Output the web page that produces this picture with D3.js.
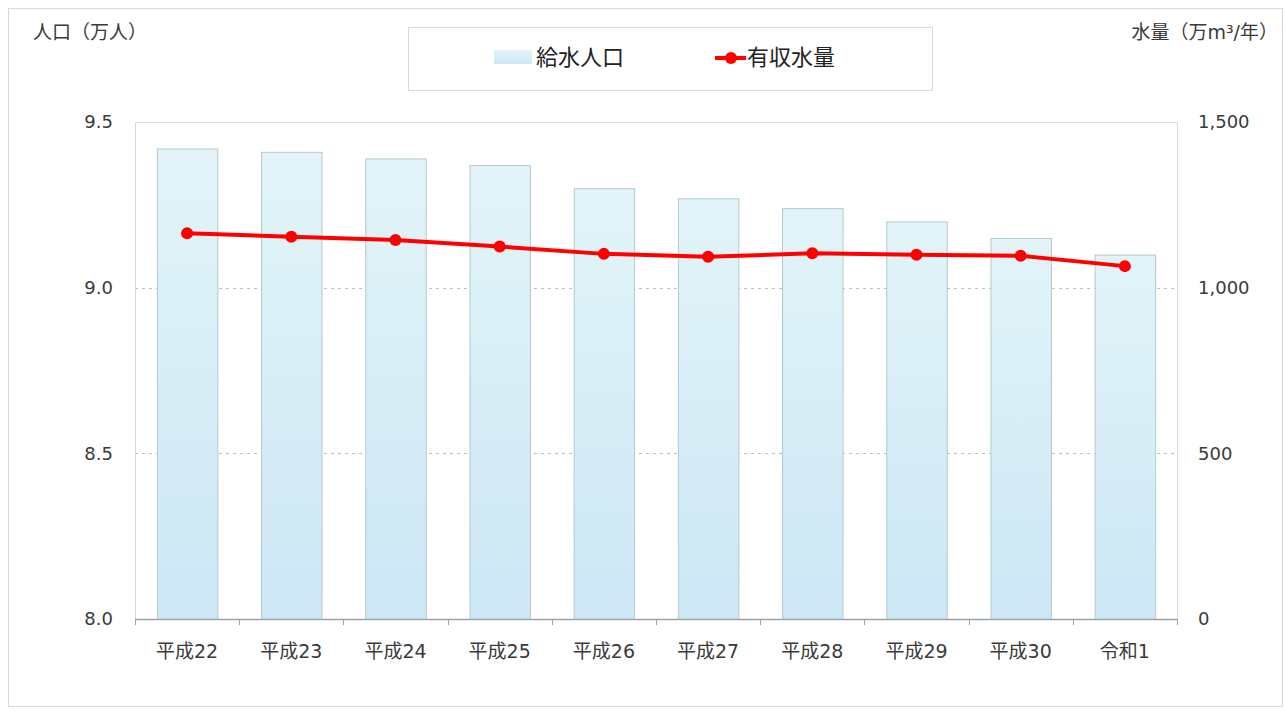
<!DOCTYPE html>
<html>
<head>
<meta charset="utf-8">
<script src="https://cdn.jsdelivr.net/npm/d3@7"></script>
<style>
  html, body { margin: 0; padding: 0; background: #fff; }
  svg { display: block; font-family: "DejaVu Sans", "Noto Sans CJK JP", sans-serif; }
</style>
</head>
<body>
<svg id="chart" width="1285" height="713"></svg>
<script>
// Fiscal years (Japanese era names)
const categories = ["平成22", "平成23", "平成24", "平成25", "平成26", "平成27", "平成28", "平成29", "平成30", "令和1"];
// 給水人口 (万人)
const population = [9.42, 9.41, 9.39, 9.37, 9.30, 9.27, 9.24, 9.20, 9.15, 9.10];
// 有収水量 (万m³/年)
const revenueWater = [1164, 1154, 1144, 1124, 1102, 1093, 1104, 1099, 1096, 1065];
const leftTicks = [8.0, 8.5, 9.0, 9.5];
const rightTicks = [0, 500, 1000, 1500];
const legendLabels = ["給水人口", "有収水量"];

const textColor = "#3a3a3a";
const svg = d3.select("#chart");
const plot = { left: 135, right: 1177, top: 122, bottom: 619 };

// Outer frame
svg.append("rect")
  .attr("x", 8.5).attr("y", 8.5).attr("width", 1274).attr("height", 698)
  .attr("fill", "#fff").attr("stroke", "#d9d9d9").attr("stroke-width", 1);

const x = d3.scaleBand().domain(categories)
  .range([plot.left, plot.right]).paddingInner(0.42).paddingOuter(0.21);
const xStep = d3.scaleBand().domain(categories).range([plot.left, plot.right]);
const yL = d3.scaleLinear().domain([8.0, 9.5]).range([plot.bottom, plot.top]);
const yR = d3.scaleLinear().domain([0, 1500]).range([plot.bottom, plot.top]);

const defs = svg.append("defs");
const grad = defs.append("linearGradient").attr("id", "barFill")
  .attr("x1", 0).attr("y1", 0).attr("x2", 0).attr("y2", 1);
grad.append("stop").attr("offset", "0%").attr("stop-color", "#e2f4f8");
grad.append("stop").attr("offset", "100%").attr("stop-color", "#cde7f5");

// Dashed gridlines
svg.append("g").selectAll("line")
  .data(leftTicks.filter(t => t > 8.0 && t < 9.5))
  .join("line")
  .attr("x1", plot.left).attr("x2", plot.right)
  .attr("y1", d => Math.round(yL(d)) + 0.5).attr("y2", d => Math.round(yL(d)) + 0.5)
  .attr("stroke", "#bdbdbd").attr("stroke-width", 1).attr("stroke-dasharray", "3,4");

// Plot-area top border and side axis lines
svg.append("line").attr("x1", plot.left).attr("x2", plot.right)
  .attr("y1", plot.top + 0.5).attr("y2", plot.top + 0.5).attr("stroke", "#dcdcdc");
svg.append("line").attr("x1", plot.left + 0.5).attr("x2", plot.left + 0.5)
  .attr("y1", plot.top).attr("y2", plot.bottom).attr("stroke", "#d9d9d9");
svg.append("line").attr("x1", plot.right + 0.5).attr("x2", plot.right + 0.5)
  .attr("y1", plot.top).attr("y2", plot.bottom).attr("stroke", "#d9d9d9");

// Bars
svg.append("g").selectAll("rect")
  .data(population)
  .join("rect")
  .attr("x", (d, i) => x(categories[i]) + 0.5)
  .attr("y", d => yL(d) + 0.5)
  .attr("width", x.bandwidth())
  .attr("height", d => plot.bottom - yL(d))
  .attr("fill", "url(#barFill)")
  .attr("stroke", "#b3c7d2").attr("stroke-width", 1);

// X axis
const xAxis = svg.append("g").attr("transform", `translate(0,${plot.bottom})`);
xAxis.append("line").attr("x1", plot.left).attr("x2", plot.right)
  .attr("y1", 0.5).attr("y2", 0.5).attr("stroke", "#9aa3a8").attr("stroke-width", 1.5);
const boundaries = categories.map(c => xStep(c)).concat([plot.right]);
xAxis.selectAll("line.tick").data(boundaries).join("line").attr("class", "tick")
  .attr("x1", d => Math.round(d) + 0.5).attr("x2", d => Math.round(d) + 0.5)
  .attr("y1", 0).attr("y2", 6).attr("stroke", "#9aa3a8");
xAxis.selectAll("text").data(categories).join("text")
  .attr("x", d => x(d) + x.bandwidth() / 2).attr("y", 39)
  .attr("text-anchor", "middle").attr("font-size", 19).attr("fill", textColor)
  .text(d => d);

// Left axis labels
svg.append("g").selectAll("text").data(leftTicks).join("text")
  .attr("x", 113).attr("y", d => yL(d)).attr("dy", "0.35em")
  .attr("text-anchor", "end").attr("font-size", 18).attr("fill", textColor)
  .text(d => d3.format(".1f")(d));

// Right axis labels
svg.append("g").selectAll("text").data(rightTicks).join("text")
  .attr("x", 1198).attr("y", d => yR(d)).attr("dy", "0.35em")
  .attr("text-anchor", "start").attr("font-size", 18).attr("fill", textColor)
  .text(d => d3.format(",")(d));

// Axis titles
svg.append("text").attr("x", 33).attr("y", 39).attr("font-size", 19).attr("fill", textColor)
  .text("人口（万人）");
svg.append("text").attr("x", 1278).attr("y", 39).attr("text-anchor", "end")
  .attr("font-size", 19).attr("fill", textColor)
  .text("水量（万m³/年）");

// Line series
const line = d3.line()
  .x((d, i) => x(categories[i]) + x.bandwidth() / 2)
  .y(d => yR(d));
svg.append("path").datum(revenueWater)
  .attr("d", line).attr("fill", "none")
  .attr("stroke", "#ff0000").attr("stroke-width", 4).attr("stroke-linejoin", "round");
svg.append("g").selectAll("circle").data(revenueWater).join("circle")
  .attr("cx", (d, i) => x(categories[i]) + x.bandwidth() / 2)
  .attr("cy", d => yR(d)).attr("r", 6).attr("fill", "#ff0000");

// Legend
const legend = svg.append("g");
legend.append("rect").attr("x", 408.5).attr("y", 27.5).attr("width", 524).attr("height", 63)
  .attr("fill", "#fff").attr("stroke", "#d9d9d9");
legend.append("rect").attr("x", 494).attr("y", 50).attr("width", 38).attr("height", 14)
  .attr("fill", "url(#barFill)");
legend.append("text").attr("x", 536).attr("y", 65).attr("font-size", 22).attr("fill", "#222")
  .text(legendLabels[0]);
legend.append("line").attr("x1", 715).attr("x2", 746).attr("y1", 58).attr("y2", 58)
  .attr("stroke", "#ff0000").attr("stroke-width", 4);
legend.append("circle").attr("cx", 731).attr("cy", 58).attr("r", 6).attr("fill", "#ff0000");
legend.append("text").attr("x", 747).attr("y", 65).attr("font-size", 22).attr("fill", "#222")
  .text(legendLabels[1]);
</script>
</body>
</html>
